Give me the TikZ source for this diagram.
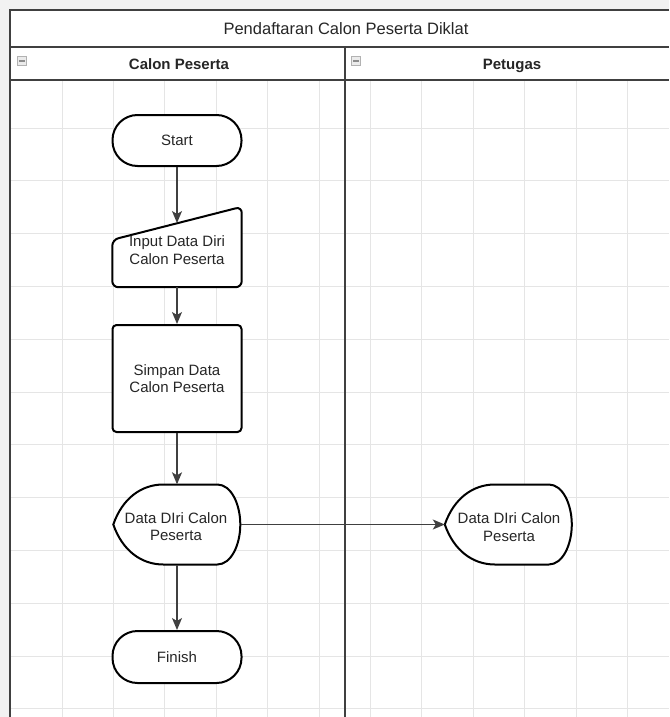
\documentclass[tikz,border=0pt]{standalone}
\usepackage{fontspec}
\setmainfont{Liberation Sans}
\usetikzlibrary{arrows.meta,calc}
\newcommand\dispshape[1]{%
  \draw[shp] ([shift={(0,0)}]#1.west)
    .. controls ([shift={(9,-26)}]#1.west) and ([shift={(28,-40)}]#1.west) .. ([shift={(50,-40)}]#1.west)
    -- ([shift={(104,-40)}]#1.west)
    .. controls ([shift={(118,-40)}]#1.west) and ([shift={(127,-20)}]#1.west) .. ([shift={(127,0)}]#1.west)
    .. controls ([shift={(127,20)}]#1.west) and ([shift={(118,40)}]#1.west) .. ([shift={(104,40)}]#1.west)
    -- ([shift={(50,40)}]#1.west)
    .. controls ([shift={(28,40)}]#1.west) and ([shift={(9,26)}]#1.west) .. cycle;}
\begin{document}
\begin{tikzpicture}[x=1pt,y=-1pt,
  shp/.style={draw=black,line width=2pt,fill=white},
  lbl/.style={font=\fontsize{15}{17.5}\selectfont,align=center,text=black!85},
  hdr/.style={font=\fontsize{15}{17.5}\selectfont\bfseries,text=black!85,anchor=base},
  ttl/.style={font=\fontsize{16.5}{19}\selectfont,text=black!85,anchor=base},
  conn/.style={draw=black!75,line width=1.3pt,-{Stealth[length=12pt,width=10pt,inset=3pt]}},
  frame/.style={draw=black!75,line width=2pt},
  gridline/.style={draw=black!10,line width=0.8pt},
  icon/.style={draw=black!30,fill=black!8,line width=0.8pt,minimum size=9pt,inner sep=0pt},
  boxnode/.style={inner sep=0pt,minimum width=127pt,minimum height=80pt,lbl}]
\useasboundingbox (0,0) rectangle (669,717);
\fill[black!5] (0,0) rectangle (669,717);
\fill[white] (10,10) rectangle (669,717);
% grid
\foreach \k in {1,...,12} {\draw[gridline] ({10.6+51.4*\k},80) -- ({10.6+51.4*\k},717);}
\foreach \k in {0,...,11} {\draw[gridline] (10,{128+52.8*\k}) -- (669,{128+52.8*\k});}
% frame
\draw[frame] (669,10) -- (10,10) -- (10,717);
\draw[frame] (10,47) -- (669,47);
\draw[frame] (10,80) -- (669,80);
\draw[frame] (345,47) -- (345,717);
% titles
\node[ttl] (title) at (346,35) {Pendaftaran Calon Peserta Diklat};
\node[hdr] (laneA) at (179,69.5) {Calon Peserta};
\node[hdr] (laneB) at (512,69.5) {Petugas};
\node[icon] (iconA) at (22,61) {};
\node[icon] (iconB) at (356,61) {};
\fill[black!45] ([shift={(-3,-1)}]iconA.center) rectangle ([shift={(3,1)}]iconA.center);
\fill[black!45] ([shift={(-3,-1)}]iconB.center) rectangle ([shift={(3,1)}]iconB.center);
% shapes
\node[shp,lbl,rounded corners=25pt,minimum width=129pt,minimum height=51pt,inner sep=0pt] (start) at (177,140.5) {Start};
\node[inner sep=0pt,minimum width=129pt,minimum height=80pt,lbl] (input) at (177,247) {};
\draw[shp,rounded corners=6pt] (input.south west) -- ([yshift=-33pt]input.north west) -- (input.north east) -- (input.south east) -- cycle;
\node[lbl] (inputtxt) at (177,250) {Input Data Diri\\Calon Peserta};
\coordinate (inTop) at (177,223);
\node[shp,lbl,rounded corners=4pt,minimum width=129pt,minimum height=107pt,inner sep=0pt] (simpan) at (177,378.5) {Simpan Data\\Calon Peserta};
\node[boxnode] (dispA) at (177,524.5) {};
\dispshape{dispA}
\node[lbl] (dispAtxt) at (176,526.5) {Data DIri Calon\\Peserta};
\node[boxnode] (dispB) at (508.5,524.5) {};
\dispshape{dispB}
\node[lbl] (dispBtxt) at (509,527) {Data DIri Calon\\Peserta};
\node[shp,lbl,rounded corners=25pt,minimum width=129pt,minimum height=52pt,inner sep=0pt] (finish) at (177,657) {Finish};
% connectors
\draw[conn] (start.south) -- (inTop);
\draw[conn] (input.south) -- (simpan.north);
\draw[conn] (simpan.south) -- (dispA.north);
\draw[conn] (dispA.south) -- (finish.north);
\draw[conn] (dispA.east) -- (dispB.west);
\end{tikzpicture}
\end{document}
